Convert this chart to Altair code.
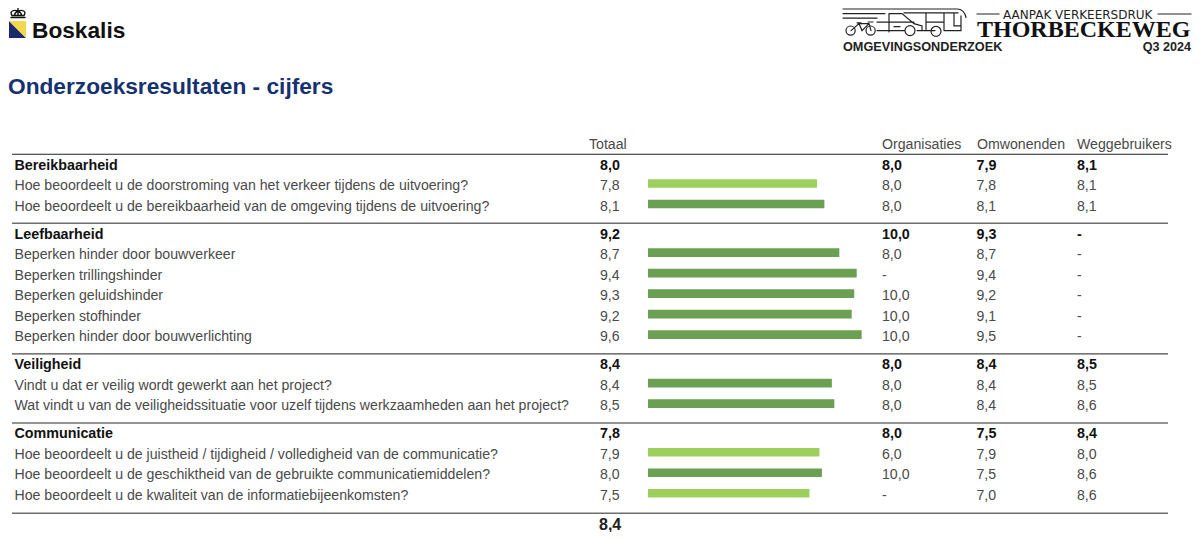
import altair as alt
import pandas as pd

# ---------- data ----------
group_names = ["Bereikbaarheid", "Leefbaarheid", "Veiligheid", "Communicatie"]
group_sizes = [2, 5, 2, 3]
group_total = [8.0, 9.2, 8.4, 7.8]
group_org = [8.0, 10.0, 8.0, 8.0]
group_omw = [7.9, 9.3, 8.4, 7.5]
group_weg = [8.1, None, 8.5, 8.4]

q_names = [
    "Hoe beoordeelt u de doorstroming van het verkeer tijdens de uitvoering?",
    "Hoe beoordeelt u de bereikbaarheid van de omgeving tijdens de uitvoering?",
    "Beperken hinder door bouwverkeer",
    "Beperken trillingshinder",
    "Beperken geluidshinder",
    "Beperken stofhinder",
    "Beperken hinder door bouwverlichting",
    "Vindt u dat er veilig wordt gewerkt aan het project?",
    "Wat vindt u van de veiligheidssituatie voor uzelf tijdens werkzaamheden aan het project?",
    "Hoe beoordeelt u de juistheid / tijdigheid / volledigheid van de communicatie?",
    "Hoe beoordeelt u de geschiktheid van de gebruikte communicatiemiddelen?",
    "Hoe beoordeelt u de kwaliteit van de informatiebijeenkomsten?",
]
q_total = [7.8, 8.1, 8.7, 9.4, 9.3, 9.2, 9.6, 8.4, 8.5, 7.9, 8.0, 7.5]
q_org = [8.0, 8.0, 8.0, None, 10.0, 10.0, 10.0, 8.0, 8.0, 6.0, 10.0, None]
q_omw = [7.8, 8.1, 8.7, 9.4, 9.2, 9.1, 9.5, 8.4, 8.4, 7.9, 7.5, 7.0]
q_weg = [8.1, 8.1, None, None, None, None, None, 8.5, 8.6, 8.0, 8.6, 8.6]
q_band = ["low", "high", "high", "high", "high", "high", "high", "high", "high", "low", "high", "low"]

grand_total = 8.4
headers = ["Totaal", "Organisaties", "Omwonenden", "Weggebruikers"]
sep_color = ["#222222", "#6e6e6e", "#4a4a4a", "#2a2a2a", "#6e6e6e"]
sep_width = [1.2, 1.5, 1.3, 1.2, 1.5]

W, H = 1184, 524
FONT = "Liberation Sans"
GROUP_GAP = 1.37  # table lines between the last question and the next group
COL_X = [6.5, 592, 874, 968.5, 1069]   # label, totaal, organisaties, omwonenden, weggebruikers
HEAD_X = [581, 874, 969, 1069]

# table lines: the row grid of the table
g_line, q_line, sep_line = [], [], []
line = 0.0
for n in group_sizes:
    sep_line.append(line - 0.55)
    g_line.append(line)
    for k in range(n):
        line += 1
        q_line.append(line)
    line += GROUP_GAP
sep_line.append(line - GROUP_GAP + 0.85)
total_line = line - GROUP_GAP + 1.44
head_line = -1.0


def fmt(v):
    return "-" if v is None else f"{v:.1f}".replace(".", ",")


Y = alt.Y("line:Q", scale=alt.Scale(domain=[0, 20], range=[157.5, 567.5], zero=False, nice=False), axis=None)


def column(lines, texts, x, size=14.15, bold=False, color="#4a4a4a"):
    df = pd.DataFrame({"line": lines, "txt": texts})
    return alt.Chart(df).mark_text(
        align="left", baseline="middle", font=FONT, fontSize=size,
        fontWeight="bold" if bold else "normal", color=color,
    ).encode(x=alt.value(x), y=Y, text="txt:N")


q_cols = [q_names] + [[fmt(v) for v in c] for c in (q_total, q_org, q_omw, q_weg)]
g_cols = [group_names] + [[fmt(v) for v in c] for c in (group_total, group_org, group_omw, group_weg)]

body = [column(q_line, c, x) for c, x in zip(q_cols, COL_X)]
groups = [column(g_line, c, x, size=14.3, bold=True, color="#111111") for c, x in zip(g_cols, COL_X)]
head = [column([head_line], [h], x) for h, x in zip(headers, HEAD_X)]
total = column([total_line], [fmt(grand_total)], 591, size=16, bold=True, color="#222222")

bar_df = pd.DataFrame({"line": q_line, "v": q_total, "base": [1] * len(q_line), "band": q_band})
bars = alt.Chart(bar_df).mark_rule(strokeWidth=8.6, yOffset=-2.5, strokeCap="butt").encode(
    x=alt.X("v:Q", scale=alt.Scale(domain=[1, 10], range=[640, 863.6], zero=False, nice=False), axis=None),
    x2="base:Q",
    y=Y,
    color=alt.Color("band:N", scale=alt.Scale(domain=["low", "high"], range=["#9ccf5b", "#6b9f52"]), legend=None),
)

sep_df = pd.DataFrame({"line": sep_line, "c": sep_color, "w": sep_width})
rules = alt.Chart(sep_df).mark_rule().encode(
    y=Y, x=alt.value(4), x2=alt.value(1160),
    color=alt.Color("c:N", scale=None),
    strokeWidth=alt.StrokeWidth("w:Q", scale=None),
)


def txt(s, x, y, size, color="#000000", weight="bold", font=FONT, align="left"):
    return alt.Chart(pd.DataFrame({"t": [s]})).mark_text(
        align=align, baseline="alphabetic", font=font, fontSize=size, fontWeight=weight,
        color=color,
    ).encode(x=alt.value(x), y=alt.value(y), text="t:N")


def glyph(path, x, y, fill=None, stroke=None, width=1.3):
    # size 4 makes one unit of the path one pixel
    kw = dict(shape=path, size=4, opacity=1)
    if fill:
        kw.update(filled=True, fill=fill, strokeWidth=0)
    else:
        kw.update(filled=False, stroke=stroke, strokeWidth=width, strokeCap="round")
    return alt.Chart(pd.DataFrame({"a": [0]})).mark_point(**kw).encode(x=alt.value(x), y=alt.value(y))


crown = ("M3 9.5H17 M4 7.5H16 M10 0.5V7.5 M4 7.5C1 3 6 1.5 10 3C14 1.5 19 3 16 7.5 "
         "M7 7.5C6 5.5 8 4 10 3C12 4 14 5.5 13 7.5")
vehicles = (
    "M0 1H114C119 1 122 5 123 9.5 M0 5.6H42 M0 10.2H34 "
    "M34 14.1H71 M46 5.6V24 M46 5.6H59L71 15.6L79 17.9V22.6H74 M34 22.6H62 M51 18.7H57 "
    "M61 4.9H115 M83 4.9V22.6 M101 4.9V22.6 M111 4.9V17.9 M83 14.1H101 M74 22.6H92 M101 22.6H118V7.9 M111 17.9H118 "
    "M62 22.6A5 5 0 1 0 72 22.6A5 5 0 1 0 62 22.6 "
    "M88 23.3A5 5 0 1 0 98 23.3A5 5 0 1 0 88 23.3 "
    "M3 22.6A4.6 4.6 0 1 0 12.2 22.6A4.6 4.6 0 1 0 3 22.6 M23 22.6A4.6 4.6 0 1 0 32.2 22.6A4.6 4.6 0 1 0 23 22.6 "
    "M8 22.6L16 15.6H26L28 22.6 M16 15.6L19 22.6L26 15.6 M14 14.8H18 M25 14H30"
)

deco = [
    glyph("M0 0L17 17H0Z", 1, 13, fill="#1b2a6b"),
    glyph("M0 0H17V17Z", 1, 13, fill="#f3d84b"),
    glyph(crown, 0, 0, stroke="#111111", width=1.4),
    txt("Boskalis", 24, 30, 22.7, color="#111111"),
    txt("Onderzoeksresultaten - cijfers", 0, 86, 22.7, color="#16316f"),
    glyph(vehicles, 835, 0, stroke="#222222", width=1.2),
    txt("AANPAK VERKEERSDRUK", 995, 11, 12, color="#222222", weight="normal", font="DejaVu Sans"),
    glyph("M0 6H22 M181 6H214", 969, 0, stroke="#222222", width=1.2),
    txt("THORBECKEWEG", 969, 28.5, 24, color="#111111", font="Liberation Serif"),
    txt("OMGEVINGSONDERZOEK", 835, 43, 12.7, color="#222222"),
    txt("Q3 2024", 1183, 43, 12.6, color="#222222", align="right"),
]

chart = alt.layer(rules, bars, *body, *groups, *head, total, *deco).resolve_scale(
    color="independent"
).properties(
    width=W, height=H, padding=0, autosize=alt.AutoSizeParams(type="none")
).configure_view(stroke=None)

chart.save("out.html", embed_options={"renderer": "svg", "actions": False})
